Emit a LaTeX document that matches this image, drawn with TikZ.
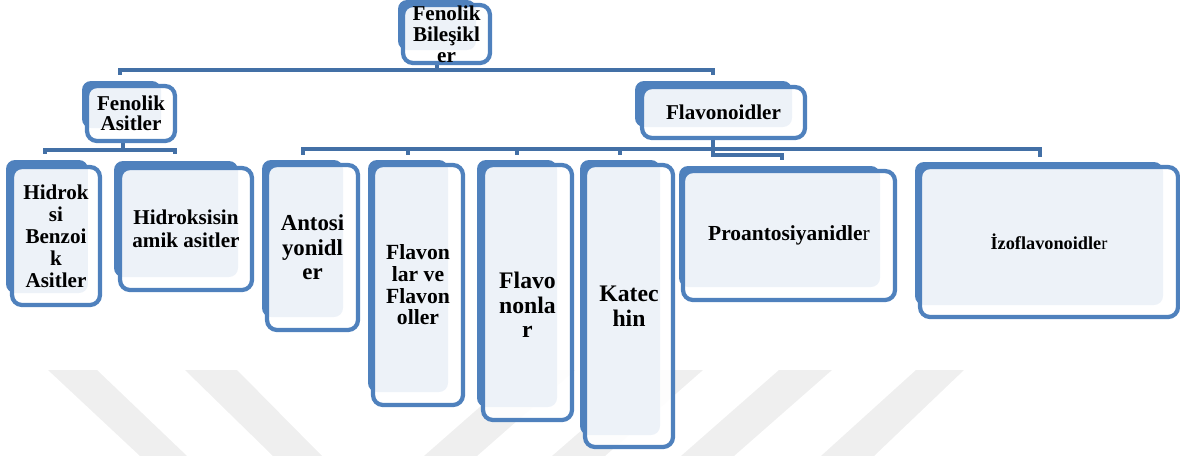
\documentclass[tikz,border=0pt]{standalone}
\usepackage{fontspec}
\setmainfont{Liberation Serif}
\usetikzlibrary{backgrounds}
\definecolor{boxblue}{HTML}{4F81BD}
\definecolor{linkblue}{HTML}{4370A6}
\definecolor{wmgray}{HTML}{EFEFEF}
\newcommand{\fs}[2]{\fontsize{#1}{#2}\selectfont\bfseries}

\tikzset{
  front/.style={draw=boxblue, line width=2.4pt, rounded corners=0.2cm, fill=white,
    fill opacity=0.9, text opacity=1, align=center, inner sep=0pt, outer sep=0pt},
  back/.style={fill=boxblue, rounded corners=0.18cm},
  conn/.style={draw=linkblue, line width=2.2pt},
  txt/.style={align=center, inner sep=0pt}
}

\begin{document}
\begin{tikzpicture}
   \useasboundingbox (0,0) rectangle (23.6,-9.12);
   \coordinate (topbar) at (0,-1.40);
   \coordinate (fabar)  at (0,-3.00);
   \coordinate (flbar)  at (0,-2.98);
   \coordinate (flbarb) at (0,-3.10);

   \node[front, minimum width=1.74cm, minimum height=1.16cm, font=\fs{12}{12}] (root) at (8.93,-0.68) {Fenolik\\Bileşikl\\er};
   \node[front, minimum width=1.76cm, minimum height=1.10cm, font=\fs{12}{11.5}] (fenasit) at (2.62,-2.27) {Fenolik\\Asitler};
   \node[front, minimum width=3.26cm, minimum height=1.02cm, font=\fs{12}{13}] (flav) at (14.47,-2.25) {Flavonoidler};
   \node[front, minimum width=1.76cm, minimum height=2.76cm, font=\fs{12}{12.5}] (hbenz) at (1.12,-4.72) {Hidrok\\si\\Benzoi\\k\\Asitler};
   \node[front, minimum width=2.64cm, minimum height=2.44cm, font=\fs{12}{13}] (hsin) at (3.72,-4.58) {Hidroksisin\\amik asitler};
   \node[front, minimum width=1.82cm, minimum height=3.30cm, font=\fs{13}{14}] (anto) at (6.25,-4.95) {Antosi\\yonidl\\er};
   \node[front, minimum width=1.80cm, minimum height=4.80cm, font=\fs{12.3}{12.3}] (flavon) at (8.36,-5.70) {Flavon\\lar ve\\Flavon\\oller};
   \node[front, minimum width=1.78cm, minimum height=5.10cm] (flavonon) at (10.55,-5.85) {};
   \node[txt, font=\fs{13.5}{14}] (flavonon-t) at (10.55,-6.10) {Flavo\\nonla\\r};
   \node[front, minimum width=1.76cm, minimum height=5.64cm, font=\fs{13.5}{14}] (katec) at (12.58,-6.12) {Katec\\hin};
   \node[front, minimum width=4.24cm, minimum height=2.58cm, font=\fs{12.2}{13}] (proanto) at (15.78,-4.71) {Proantosiyanidle\textmd{r}};
   \node[front, minimum width=5.16cm, minimum height=3.00cm, font=\fs{10.4}{12}] (izo) at (20.98,-4.84) {İzoflavonoidle\textmd{r}};

   \begin{scope}[on background layer]
     \fill[wmgray] (0.96,-7.40) -- (1.94,-7.40) -- (3.74,-9.12) -- (2.80,-9.12) -- cycle;
     \fill[wmgray] (3.70,-7.40) -- (4.74,-7.40) -- (6.44,-9.12) -- (5.46,-9.12) -- cycle;
     \fill[wmgray] (10.44,-7.40) -- (11.50,-7.40) -- (9.54,-9.12) -- (8.48,-9.12) -- cycle;
     \fill[wmgray] (13.02,-7.40) -- (14.06,-7.40) -- (12.10,-9.12) -- (11.04,-9.12) -- cycle;
     \fill[wmgray] (15.58,-7.40) -- (16.64,-7.40) -- (14.68,-9.12) -- (13.62,-9.12) -- cycle;
     \fill[wmgray] (18.32,-7.40) -- (19.28,-7.40) -- (17.48,-9.12) -- (16.42,-9.12) -- cycle;

     \draw[conn, shorten >=0.22cm] ([xshift=-1.9mm]root.south) -- ([xshift=-1.9mm]root.south |- topbar) -| ([xshift=-2.2mm]fenasit.north);
     \draw[conn, shorten >=0.24cm] ([xshift=-1.9mm]root.south) -- ([xshift=-1.9mm]root.south |- topbar) -| ([xshift=-2.1mm]flav.north);
     \draw[conn, shorten >=0.26cm] ([xshift=-1.6mm]fenasit.south) -- ([xshift=-1.6mm]fenasit.south |- fabar) -| ([xshift=-2.2mm]hbenz.north);
     \draw[conn, shorten >=0.28cm] ([xshift=-1.6mm]fenasit.south) -- ([xshift=-1.6mm]fenasit.south |- fabar) -| ([xshift=-2.2mm]hsin.north);
     \draw[conn, shorten >=0.20cm] ([xshift=-2.1mm]flav.south) -- ([xshift=-2.1mm]flav.south |- flbar) -| ([xshift=-1.9mm]anto.north);
     \draw[conn, shorten >=0.20cm] ([xshift=-2.1mm]flav.south) -- ([xshift=-2.1mm]flav.south |- flbar) -| ([xshift=-2.0mm]flavon.north);
     \draw[conn, shorten >=0.20cm] ([xshift=-2.1mm]flav.south) -- ([xshift=-2.1mm]flav.south |- flbar) -| ([xshift=-2.1mm]flavonon.north);
     \draw[conn, shorten >=0.20cm] ([xshift=-2.1mm]flav.south) -- ([xshift=-2.1mm]flav.south |- flbar) -| ([xshift=-1.8mm]katec.north);
     \draw[conn, shorten >=0.22cm] ([xshift=-2.1mm]flav.south) -- ([xshift=-2.1mm]flav.south |- flbarb) -| ([xshift=-1.4mm]proanto.north);
     \draw[conn, shorten >=0.20cm] ([xshift=-2.1mm]flav.south) -- ([xshift=-2.1mm]flav.south |- flbar) -| ([xshift=-1.8mm]izo.north);

     \fill[back] ([shift={(-0.10,0.10)}]root.north west) rectangle ([shift={(-0.28,0.26)}]root.south east);
     \fill[back] ([shift={(-0.10,0.10)}]fenasit.north west) rectangle ([shift={(-0.28,0.26)}]fenasit.south east);
     \fill[back] ([shift={(-0.14,0.12)}]flav.north west) rectangle ([shift={(-0.26,0.22)}]flav.south east);
     \fill[back] ([shift={(-0.12,0.14)}]hbenz.north west) rectangle ([shift={(-0.24,0.24)}]hbenz.south east);
     \fill[back] ([shift={(-0.12,0.14)}]hsin.north west) rectangle ([shift={(-0.28,0.26)}]hsin.south east);
     \fill[back] ([shift={(-0.10,0.10)}]anto.north west) rectangle ([shift={(-0.30,0.26)}]anto.south east);
     \fill[back] ([shift={(-0.10,0.10)}]flavon.north west) rectangle ([shift={(-0.30,0.26)}]flavon.south east);
     \fill[back] ([shift={(-0.12,0.10)}]flavonon.north west) rectangle ([shift={(-0.30,0.26)}]flavonon.south east);
     \fill[back] ([shift={(-0.10,0.10)}]katec.north west) rectangle ([shift={(-0.26,0.24)}]katec.south east);
     \fill[back] ([shift={(-0.08,0.10)}]proanto.north west) rectangle ([shift={(-0.30,0.26)}]proanto.south east);
     \fill[back] ([shift={(-0.10,0.10)}]izo.north west) rectangle ([shift={(-0.30,0.24)}]izo.south east);
   \end{scope}
\end{tikzpicture}
\end{document}
